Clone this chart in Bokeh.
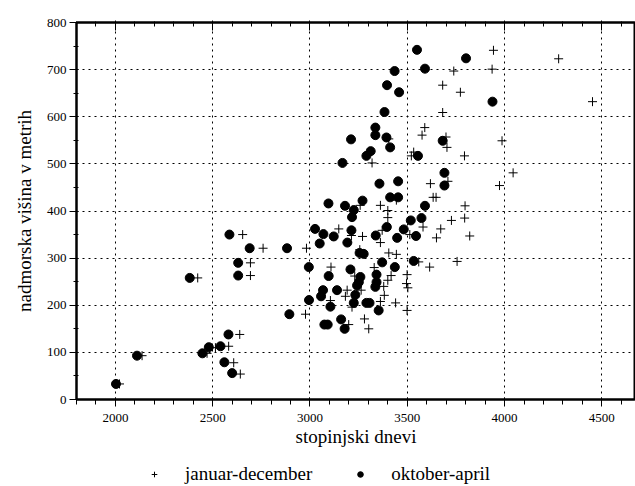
from bokeh.plotting import figure
from bokeh.layouts import column
from bokeh.models import (Range1d, LinearAxis, SingleIntervalTicker, Legend, LegendItem,
                          ColumnDataSource, CustomJSTickFormatter)
from bokeh.embed import file_html
from bokeh.resources import INLINE

# januar-december (plus markers)
jd_x = [2021, 2137, 2423, 2471, 2514, 2582, 2639, 2608, 2642, 2654, 2759, 2694, 2694, 2982, 2977,
        3943, 4278, 3936, 3739, 3682, 3773, 4452, 3682, 3590, 3576, 3699, 3704, 3987, 3533, 3521,
        3794, 3319, 4044, 3974, 3709, 3619, 3633, 3648, 3797, 3795, 3727, 3821, 3672, 3650, 3581,
        3513, 3444, 3400, 3400, 3362, 3371, 3270, 3213, 3148, 3362, 3256, 3405, 3444, 3108, 3559,
        3615, 3756, 3230, 3417, 3400, 3379, 3499, 3496, 3503, 3191, 3182, 3263, 3382, 3362, 3440,
        3105, 3216, 3499, 3280, 3302, 3199, 3330, 3405, 3258]
jd_y = [33, 93, 258, 98, 110, 113, 138, 78, 54, 350, 321, 290, 263, 321, 181,
        741, 723, 701, 697, 667, 652, 632, 609, 577, 561, 557, 535, 549, 525, 517,
        517, 502, 481, 454, 463, 458, 429, 429, 411, 385, 380, 347, 362, 343, 366,
        350, 423, 401, 386, 412, 359, 346, 348, 362, 333, 318, 311, 308, 281, 292,
        281, 293, 262, 263, 253, 240, 265, 246, 237, 232, 219, 232, 221, 208, 205,
        210, 196, 189, 171, 150, 159, 280, 553, 412]

# oktober-april (filled circles)
oa_x = [2003, 2111, 2382, 2447, 2480, 2540, 2581, 2560, 2600, 2586, 2690, 2631, 2631, 2882, 2894,
        2994, 2995, 3550, 3802, 3591, 3435, 3396, 3458, 3938, 3383, 3336, 3336, 3211, 3393, 3412,
        3682, 3312, 3290, 3555, 3167, 3691, 3691, 3357, 3453, 3412, 3453, 3591, 3095, 3180, 3270,
        3225, 3216, 3518, 3573, 3026, 3069, 3122, 3050, 3192, 3213, 3338, 3395, 3448, 3482, 3545,
        3255, 3276, 3371, 3436, 3533, 3096, 3208, 3259, 3342, 3342, 3336, 3251, 3242, 3067, 3139,
        3057, 3233, 3225, 3290, 3306, 3105, 3353, 3160, 3074, 3091, 3178]
oa_y = [33, 93, 258, 98, 111, 113, 138, 79, 56, 350, 321, 290, 263, 321, 181,
        281, 211, 742, 724, 702, 697, 667, 652, 632, 610, 577, 561, 552, 556, 535,
        549, 527, 517, 517, 502, 481, 454, 458, 463, 429, 429, 411, 416, 411, 422,
        402, 387, 380, 385, 362, 351, 346, 331, 333, 359, 348, 366, 343, 361, 347,
        311, 309, 291, 281, 294, 262, 276, 260, 265, 249, 239, 249, 242, 232, 232,
        219, 222, 205, 205, 205, 197, 189, 170, 159, 159, 150]

series_labels = ["januar-december", "oktober-april"]
x_title = "stopinjski dnevi"
y_title = "nadmorska višina v metrih"

FONT = "Liberation Serif"

p = figure(width=635, height=452, output_backend="svg", toolbar_location=None,
           x_range=Range1d(1800, 4673), y_range=Range1d(0, 800),
           min_border_left=76, min_border_top=22, min_border_right=0, min_border_bottom=53,
           x_axis_label=x_title, y_axis_label=y_title)
p.outline_line_color = "black"
p.outline_line_width = 2

p.xaxis.ticker = SingleIntervalTicker(interval=500, num_minor_ticks=5)
p.yaxis.ticker = SingleIntervalTicker(interval=100, num_minor_ticks=2)

for ax in (p.xaxis[0], p.yaxis[0]):
    ax.axis_line_width = 2
    ax.axis_line_color = "black"
    ax.major_tick_line_color = "black"
    ax.minor_tick_line_color = "black"
    ax.major_label_text_font = FONT
    ax.major_label_text_font_size = "13px"
    ax.major_label_text_color = "black"
    ax.axis_label_text_font = FONT
    ax.axis_label_text_font_size = "19px"
    ax.axis_label_text_font_style = "normal"
    ax.axis_label_text_color = "black"

p.xaxis.major_tick_out = 7
p.xaxis.major_tick_in = 2
p.xaxis.minor_tick_out = 5
p.xaxis.minor_tick_in = 0
p.xaxis.major_label_standoff = 7
p.xaxis.axis_label_standoff = 1

p.yaxis.major_tick_out = 7
p.yaxis.major_tick_in = 0
p.yaxis.minor_tick_out = 3
p.yaxis.minor_tick_in = 2
p.yaxis.major_label_standoff = 3
p.yaxis.axis_label_standoff = 9

p.xgrid.grid_line_color = "black"
p.xgrid.grid_line_dash = "dotted"
p.xgrid.grid_line_width = 1
p.ygrid.grid_line_color = "black"
p.ygrid.grid_line_dash = "dotted"
p.ygrid.grid_line_width = 1

src_jd = ColumnDataSource(dict(x=jd_x, y=jd_y))
src_oa = ColumnDataSource(dict(x=oa_x, y=oa_y))
p.scatter("x", "y", source=src_jd, marker="cross", size=9, line_color="black", line_width=1)
p.scatter("x", "y", source=src_oa, marker="circle", size=9, fill_color="black", line_color="black")

top = LinearAxis(ticker=SingleIntervalTicker(interval=500, num_minor_ticks=5),
                 formatter=CustomJSTickFormatter(code="return ''"),
                 axis_line_width=2, axis_line_color="black",
                 major_tick_in=8, major_tick_out=2, minor_tick_in=4, minor_tick_out=1,
                 major_tick_line_color="black", minor_tick_line_color="black",
                 major_label_standoff=2, major_label_text_font_size="10px")
p.add_layout(top, "above")

# legend strip below the chart
lg = figure(width=635, height=34, output_backend="svg", toolbar_location=None,
            x_range=Range1d(0, 1), y_range=Range1d(0, 1),
            x_axis_location=None, y_axis_location=None,
            min_border_left=0, min_border_right=0, min_border_top=0, min_border_bottom=0)
lg.grid.visible = False
lg.outline_line_color = None
lr1 = lg.scatter("x", "y", source=src_jd, marker="cross", size=9, line_color="black", line_width=1)
lr2 = lg.scatter("x", "y", source=src_oa, marker="circle", size=9, fill_color="black", line_color="black")
legend = Legend(items=[LegendItem(label=series_labels[0], renderers=[lr1]),
                       LegendItem(label=series_labels[1], renderers=[lr2])],
                orientation="horizontal", location=(71, 1),
                label_text_font=FONT, label_text_font_size="19px", label_text_color="black",
                glyph_width=14, glyph_height=14, label_standoff=24, spacing=41,
                padding=0, margin=0, border_line_color=None, background_fill_alpha=0)
lg.add_layout(legend, "center")

open("out.html", "w").write(file_html(column(p, lg, spacing=0), INLINE))
